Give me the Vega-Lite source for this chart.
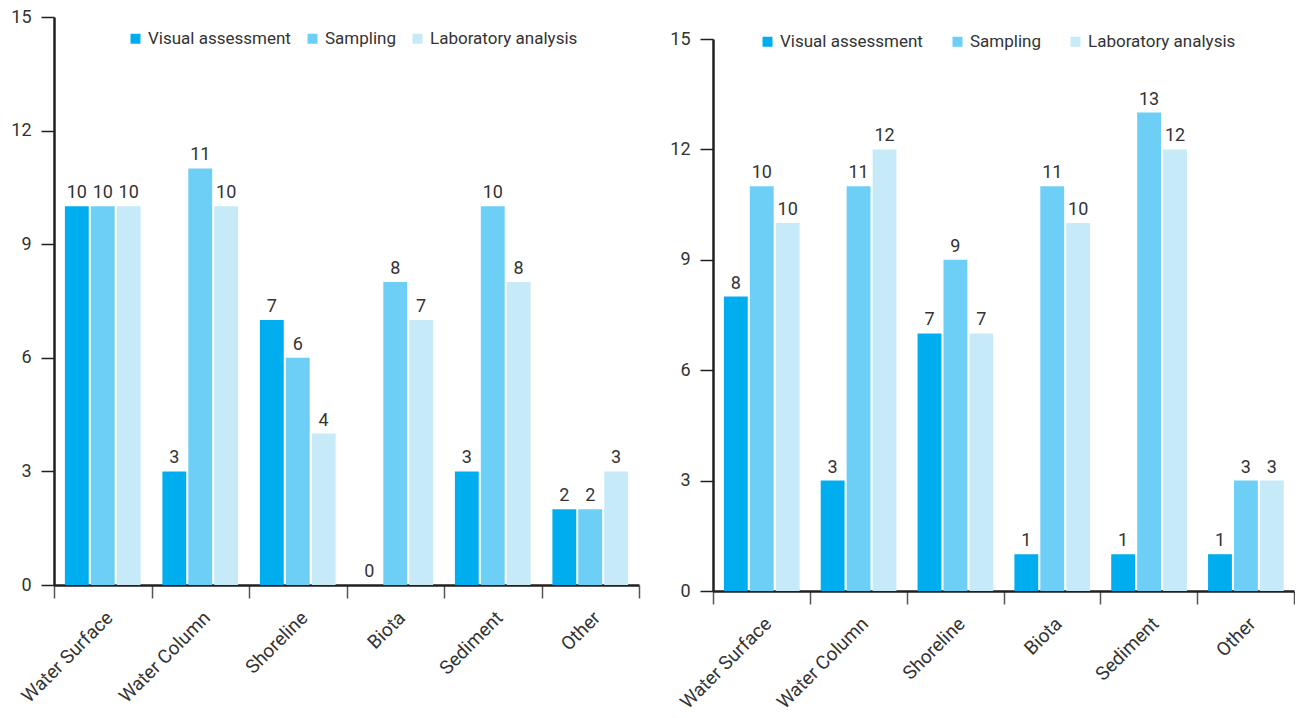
{
  "$schema": "https://vega.github.io/schema/vega-lite/v6.json",
  "background": "white",
  "padding": {"left": 10, "top": 8, "right": 0, "bottom": 0},
  "bounds": "flush",
  "spacing": 74,
  "datasets": {
    "left": [
      {"site": "Water Surface", "method": "Visual assessment", "value": 10, "label": "10"},
      {"site": "Water Surface", "method": "Sampling", "value": 10, "label": "10"},
      {"site": "Water Surface", "method": "Laboratory analysis", "value": 10, "label": "10"},
      {"site": "Water Column", "method": "Visual assessment", "value": 3, "label": "3"},
      {"site": "Water Column", "method": "Sampling", "value": 11, "label": "11"},
      {"site": "Water Column", "method": "Laboratory analysis", "value": 10, "label": "10"},
      {"site": "Shoreline", "method": "Visual assessment", "value": 7, "label": "7"},
      {"site": "Shoreline", "method": "Sampling", "value": 6, "label": "6"},
      {"site": "Shoreline", "method": "Laboratory analysis", "value": 4, "label": "4"},
      {"site": "Biota", "method": "Visual assessment", "value": 0, "label": "0"},
      {"site": "Biota", "method": "Sampling", "value": 8, "label": "8"},
      {"site": "Biota", "method": "Laboratory analysis", "value": 7, "label": "7"},
      {"site": "Sediment", "method": "Visual assessment", "value": 3, "label": "3"},
      {"site": "Sediment", "method": "Sampling", "value": 10, "label": "10"},
      {"site": "Sediment", "method": "Laboratory analysis", "value": 8, "label": "8"},
      {"site": "Other", "method": "Visual assessment", "value": 2, "label": "2"},
      {"site": "Other", "method": "Sampling", "value": 2, "label": "2"},
      {"site": "Other", "method": "Laboratory analysis", "value": 3, "label": "3"}
    ],
    "right": [
      {"site": "Water Surface", "method": "Visual assessment", "value": 8, "label": "8"},
      {"site": "Water Surface", "method": "Sampling", "value": 11, "label": "10"},
      {"site": "Water Surface", "method": "Laboratory analysis", "value": 10, "label": "10"},
      {"site": "Water Column", "method": "Visual assessment", "value": 3, "label": "3"},
      {"site": "Water Column", "method": "Sampling", "value": 11, "label": "11"},
      {"site": "Water Column", "method": "Laboratory analysis", "value": 12, "label": "12"},
      {"site": "Shoreline", "method": "Visual assessment", "value": 7, "label": "7"},
      {"site": "Shoreline", "method": "Sampling", "value": 9, "label": "9"},
      {"site": "Shoreline", "method": "Laboratory analysis", "value": 7, "label": "7"},
      {"site": "Biota", "method": "Visual assessment", "value": 1, "label": "1"},
      {"site": "Biota", "method": "Sampling", "value": 11, "label": "11"},
      {"site": "Biota", "method": "Laboratory analysis", "value": 10, "label": "10"},
      {"site": "Sediment", "method": "Visual assessment", "value": 1, "label": "1"},
      {"site": "Sediment", "method": "Sampling", "value": 13, "label": "13"},
      {"site": "Sediment", "method": "Laboratory analysis", "value": 12, "label": "12"},
      {"site": "Other", "method": "Visual assessment", "value": 1, "label": "1"},
      {"site": "Other", "method": "Sampling", "value": 3, "label": "3"},
      {"site": "Other", "method": "Laboratory analysis", "value": 3, "label": "3"}
    ]
  },
  "resolve": {"legend": {"color": "independent"}, "scale": {"y": "independent"}},
  "hconcat": [
    {
      "width": 585,
      "height": 568,
      "data": {"name": "left"},
      "encoding": {
        "x": {"field": "site", "type": "nominal", "sort": null, "title": null,
              "scale": {"paddingInner": 0, "paddingOuter": 0},
              "axis": {"tickBand": "extent", "labelAngle": -45, "labelPadding": 10}},
        "xOffset": {"field": "method", "type": "nominal",
                    "sort": ["Visual assessment", "Sampling", "Laboratory analysis"],
                    "scale": {"paddingInner": 0.08, "paddingOuter": 0.42}},
        "y": {"field": "value", "type": "quantitative", "title": null,
              "scale": {"domain": [0, 15], "nice": false},
              "axis": {"values": [0, 3, 6, 9, 12, 15]}}
      },
      "layer": [
        {
          "mark": {"type": "bar"},
          "encoding": {
            "color": {"field": "method", "type": "nominal", "title": null,
                      "sort": ["Visual assessment", "Sampling", "Laboratory analysis"],
                      "scale": {"domain": ["Visual assessment", "Sampling", "Laboratory analysis"],
                                "range": ["#00AEEF", "#6DCFF6", "#C7EAF9"]},
                      "legend": {"orient": "none", "legendX": 73, "legendY": 13, "direction": "horizontal", "columnPadding": 13}}
          }
        },
        {
          "mark": {"type": "text", "baseline": "bottom", "dy": -4, "fontSize": 18, "font": "Roboto", "color": "#333333"},
          "encoding": {"text": {"field": "label", "type": "nominal"}}
        }
      ]
    },
    {
      "width": 581,
      "height": 574,
      "data": {"name": "right"},
      "encoding": {
        "x": {"field": "site", "type": "nominal", "sort": null, "title": null,
              "scale": {"paddingInner": 0, "paddingOuter": 0},
              "axis": {"tickBand": "extent", "labelAngle": -45, "labelPadding": 10}},
        "xOffset": {"field": "method", "type": "nominal",
                    "sort": ["Visual assessment", "Sampling", "Laboratory analysis"],
                    "scale": {"paddingInner": 0.08, "paddingOuter": 0.42}},
        "y": {"field": "value", "type": "quantitative", "title": null,
              "scale": {"domain": [0, 15], "nice": false, "range": [574, 22]},
              "axis": {"values": [0, 3, 6, 9, 12, 15]}}
      },
      "layer": [
        {
          "mark": {"type": "bar"},
          "encoding": {
            "color": {"field": "method", "type": "nominal", "title": null,
                      "sort": ["Visual assessment", "Sampling", "Laboratory analysis"],
                      "scale": {"domain": ["Visual assessment", "Sampling", "Laboratory analysis"],
                                "range": ["#00AEEF", "#6DCFF6", "#C7EAF9"]},
                      "legend": {"orient": "none", "legendX": 46, "legendY": 16, "direction": "horizontal", "columnPadding": 26}}
          }
        },
        {
          "mark": {"type": "text", "baseline": "bottom", "dy": -4, "fontSize": 18, "font": "Roboto", "color": "#333333"},
          "encoding": {"text": {"field": "label", "type": "nominal"}}
        }
      ]
    }
  ],
  "config": {
    "view": {"stroke": null},
    "font": "Roboto",
    "axis": {
      "grid": false,
      "domainColor": "#231F20",
      "domainWidth": 2.5,
      "tickColor": "#231F20",
      "tickWidth": 1.5,
      "tickSize": 13,
      "labelFont": "Roboto",
      "labelFontSize": 18,
      "labelColor": "#333333",
      "labelPadding": 10
    },
    "axisX": {"tickColor": "#555555", "labelFontSize": 19},
    "legend": {
      "labelFont": "Roboto",
      "labelFontSize": 17,
      "labelColor": "#333333",
      "symbolType": "square",
      "symbolSize": 100,
      "symbolStrokeWidth": 0,
      "labelOffset": 4,
      "padding": 0
    }
  }
}
